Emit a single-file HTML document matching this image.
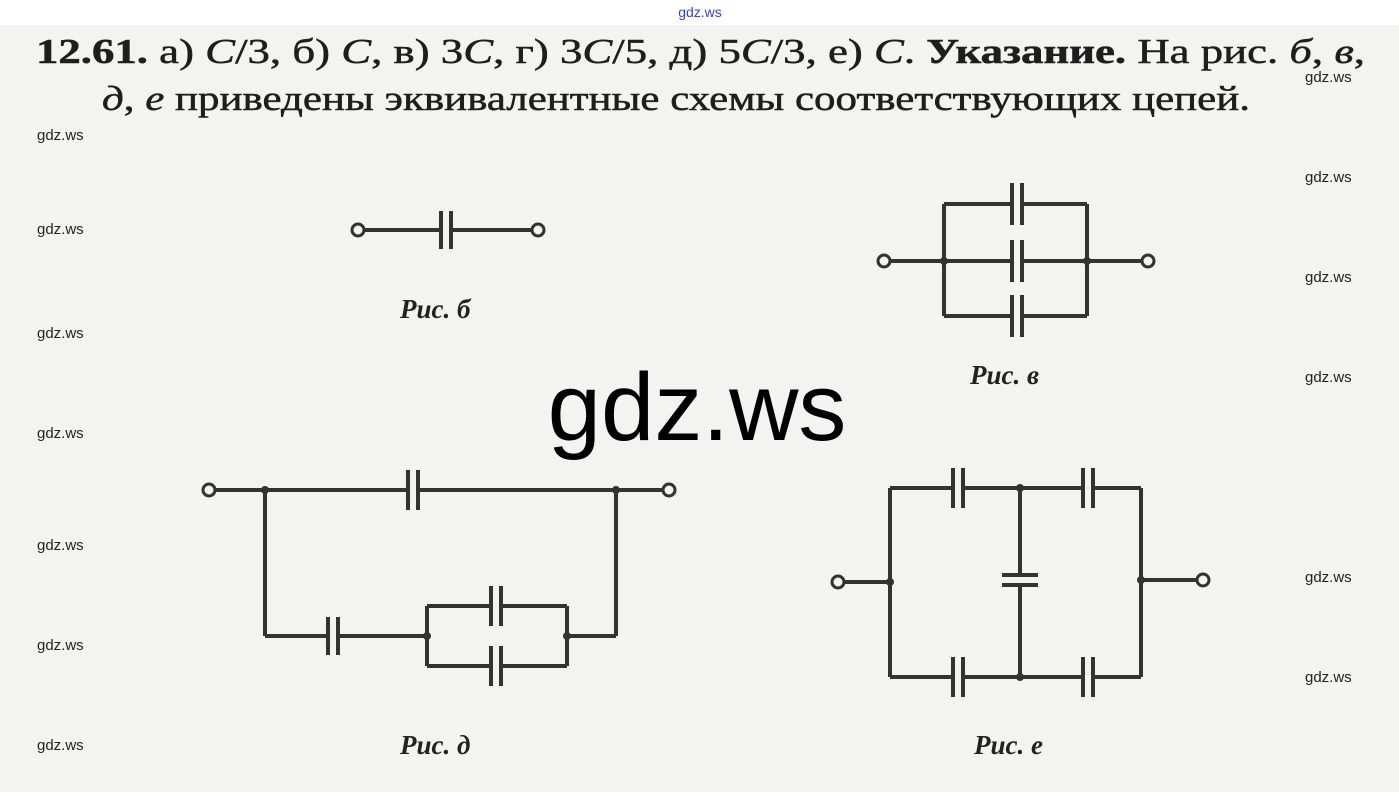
<!DOCTYPE html>
<html><head><meta charset="utf-8"><style>
html,body{margin:0;padding:0;width:1399px;height:792px;overflow:hidden;background:#f3f3f1}
svg{display:block}
.t{font-family:"Liberation Serif",serif;font-size:35px;fill:#1e1e1e;stroke:#1e1e1e;stroke-width:0.5}
.w{font-family:"Liberation Sans",sans-serif;font-size:15px;fill:#222}
.l{font-family:"Liberation Serif",serif;font-style:italic;font-weight:bold;font-size:27px;fill:#222}
</style></head><body>
<svg width="1399" height="792" viewBox="0 0 1399 792">
<rect x="0" y="0" width="1399" height="25" fill="#fff"/>
<text x="700" y="17" text-anchor="middle" font-family="Liberation Sans,sans-serif" font-size="14" fill="#3344cc">gdz.ws</text>
<text class="t" x="36" y="63" textLength="1329" lengthAdjust="spacingAndGlyphs"><tspan font-weight="bold">12.61.</tspan> а) <tspan font-style="italic">C</tspan>/3, б) <tspan font-style="italic">C</tspan>, в) 3<tspan font-style="italic">C</tspan>, г) 3<tspan font-style="italic">C</tspan>/5, д) 5<tspan font-style="italic">C</tspan>/3, е) <tspan font-style="italic">C</tspan>. <tspan font-weight="bold">Указание.</tspan> На рис. <tspan font-style="italic">б</tspan>, <tspan font-style="italic">в</tspan>,</text>
<text class="t" x="102" y="110" textLength="1148" lengthAdjust="spacingAndGlyphs"><tspan font-style="italic">д</tspan>, <tspan font-style="italic">е</tspan> приведены эквивалентные схемы соответствующих цепей.</text>
<g class="w">
<text x="37" y="140">gdz.ws</text><text x="37" y="234">gdz.ws</text><text x="37" y="338">gdz.ws</text><text x="37" y="438">gdz.ws</text><text x="37" y="550">gdz.ws</text><text x="37" y="650">gdz.ws</text><text x="37" y="750">gdz.ws</text>
<text x="1305" y="82">gdz.ws</text><text x="1305" y="182">gdz.ws</text><text x="1305" y="282">gdz.ws</text><text x="1305" y="382">gdz.ws</text><text x="1305" y="582">gdz.ws</text><text x="1305" y="682">gdz.ws</text>
</g>
<g stroke="#333" stroke-width="4" fill="none">
<line x1="365" y1="230" x2="441" y2="230"/><line x1="451" y1="230" x2="531" y2="230"/>
<line x1="441" y1="211" x2="441" y2="249"/><line x1="451" y1="211" x2="451" y2="249"/>
<line x1="891" y1="261" x2="1012" y2="261"/><line x1="1022" y1="261" x2="1141" y2="261"/>
<line x1="944" y1="204" x2="944" y2="316"/><line x1="1087" y1="204" x2="1087" y2="316"/>
<line x1="944" y1="204" x2="1012" y2="204"/><line x1="1022" y1="204" x2="1087" y2="204"/>
<line x1="944" y1="316" x2="1012" y2="316"/><line x1="1022" y1="316" x2="1087" y2="316"/>
<line x1="1012" y1="183" x2="1012" y2="225"/><line x1="1022" y1="183" x2="1022" y2="225"/>
<line x1="1012" y1="240" x2="1012" y2="282"/><line x1="1022" y1="240" x2="1022" y2="282"/>
<line x1="1012" y1="295" x2="1012" y2="337"/><line x1="1022" y1="295" x2="1022" y2="337"/>
<line x1="216" y1="490" x2="408" y2="490"/><line x1="418" y1="490" x2="662" y2="490"/>
<line x1="408" y1="470" x2="408" y2="510"/><line x1="418" y1="470" x2="418" y2="510"/>
<line x1="265" y1="490" x2="265" y2="636"/><line x1="616" y1="490" x2="616" y2="636"/>
<line x1="265" y1="636" x2="328" y2="636"/><line x1="338" y1="636" x2="427" y2="636"/>
<line x1="328" y1="617" x2="328" y2="655"/><line x1="338" y1="617" x2="338" y2="655"/>
<line x1="567" y1="636" x2="616" y2="636"/>
<line x1="427" y1="606" x2="427" y2="666"/><line x1="567" y1="606" x2="567" y2="666"/>
<line x1="427" y1="606" x2="491" y2="606"/><line x1="501" y1="606" x2="567" y2="606"/>
<line x1="427" y1="666" x2="491" y2="666"/><line x1="501" y1="666" x2="567" y2="666"/>
<line x1="491" y1="586" x2="491" y2="626"/><line x1="501" y1="586" x2="501" y2="626"/>
<line x1="491" y1="646" x2="491" y2="686"/><line x1="501" y1="646" x2="501" y2="686"/>
<line x1="890" y1="488" x2="953" y2="488"/><line x1="963" y1="488" x2="1083" y2="488"/><line x1="1093" y1="488" x2="1141" y2="488"/>
<line x1="890" y1="677" x2="953" y2="677"/><line x1="963" y1="677" x2="1083" y2="677"/><line x1="1093" y1="677" x2="1141" y2="677"/>
<line x1="953" y1="468" x2="953" y2="508"/><line x1="963" y1="468" x2="963" y2="508"/>
<line x1="1083" y1="468" x2="1083" y2="508"/><line x1="1093" y1="468" x2="1093" y2="508"/>
<line x1="953" y1="657" x2="953" y2="697"/><line x1="963" y1="657" x2="963" y2="697"/>
<line x1="1083" y1="657" x2="1083" y2="697"/><line x1="1093" y1="657" x2="1093" y2="697"/>
<line x1="890" y1="488" x2="890" y2="677"/><line x1="1141" y1="488" x2="1141" y2="677"/>
<line x1="1020" y1="488" x2="1020" y2="575"/><line x1="1020" y1="585" x2="1020" y2="677"/>
<line x1="1002" y1="575" x2="1038" y2="575"/><line x1="1002" y1="585" x2="1038" y2="585"/>
<line x1="845" y1="582" x2="890" y2="582"/><line x1="1141" y1="580" x2="1196" y2="580"/>
</g>
<g fill="#f3f3f1" stroke="#333" stroke-width="3">
<circle cx="358" cy="230" r="6"/><circle cx="538" cy="230" r="6"/>
<circle cx="884" cy="261" r="6"/><circle cx="1148" cy="261" r="6"/>
<circle cx="209" cy="490" r="6"/><circle cx="669" cy="490" r="6"/>
<circle cx="838" cy="582" r="6"/><circle cx="1203" cy="580" r="6"/>
</g>
<g fill="#333">
<circle cx="944" cy="261" r="4"/><circle cx="1087" cy="261" r="4"/>
<circle cx="265" cy="490" r="4"/><circle cx="616" cy="490" r="4"/><circle cx="427" cy="636" r="4"/><circle cx="567" cy="636" r="4"/>
<circle cx="1020" cy="488" r="4"/><circle cx="1020" cy="677" r="4"/><circle cx="890" cy="582" r="4"/><circle cx="1141" cy="580" r="4"/>
</g>
<text class="l" x="400" y="318">Рис. б</text>
<text class="l" x="970" y="384">Рис. в</text>
<text class="l" x="400" y="754">Рис. д</text>
<text class="l" x="974" y="754">Рис. е</text>
<text x="697" y="440" text-anchor="middle" font-family="Liberation Sans,sans-serif" font-size="96" fill="#000">gdz.ws</text>
</svg>
</body></html>
